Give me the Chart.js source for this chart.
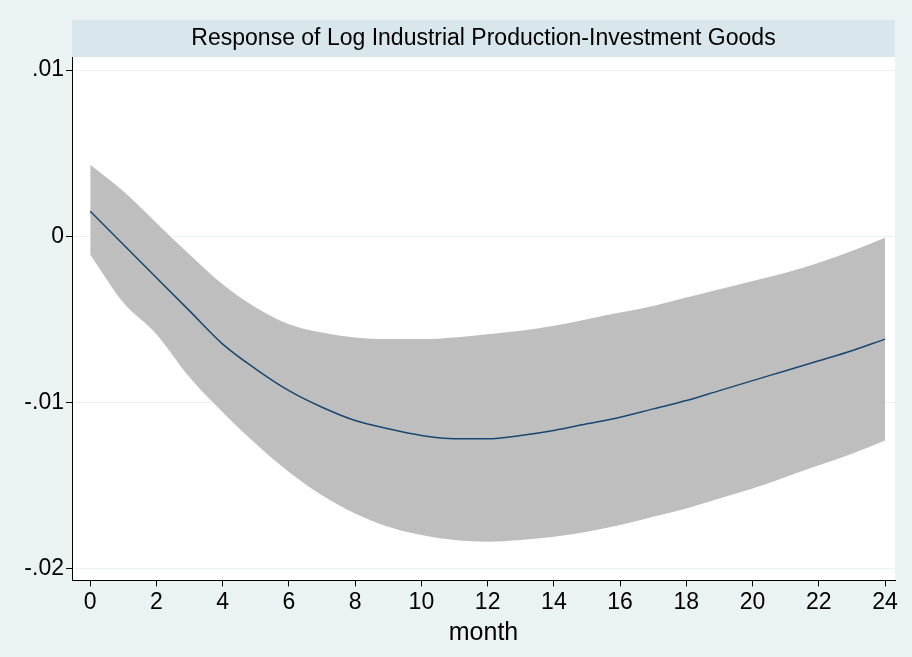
<!DOCTYPE html>
<html><head><script src="https://cdn.jsdelivr.net/npm/chart.js@4"></script>
<style>html,body{margin:0;padding:0;background:#eaf2f3}#c{display:block}</style></head>
<body><div style="width:912px;height:657px"><canvas id="c"></canvas></div>
<script>
const months=[0,1,2,3,4,5,6,7,8,9,10,11,12,13,14,15,16,17,18,19,20,21,22,23,24];
const irf=[0.0015,-0.0005,-0.0025,-0.0045,-0.0065,-0.0080,-0.0093,-0.0103,-0.0111,-0.0116,-0.0120,-0.0122,-0.0122,-0.0120,-0.0117,-0.0113,-0.0109,-0.0104,-0.0099,-0.0093,-0.0087,-0.0081,-0.0075,-0.0069,-0.0062];
const upper=[0.0043,0.0027,0.0008,-0.0011,-0.0029,-0.0043,-0.0053,-0.0058,-0.0061,-0.0062,-0.0062,-0.0061,-0.0059,-0.0057,-0.0054,-0.0050,-0.0046,-0.0042,-0.0037,-0.0032,-0.0027,-0.0022,-0.0016,-0.0009,-0.0001];
const lower=[-0.0011,-0.0040,-0.0059,-0.0085,-0.0106,-0.0125,-0.0142,-0.0156,-0.0167,-0.0175,-0.0180,-0.0183,-0.0184,-0.0183,-0.0181,-0.0178,-0.0174,-0.0169,-0.0164,-0.0158,-0.0152,-0.0145,-0.0138,-0.0131,-0.0123];
const xTicks=[0,2,4,6,8,10,12,14,16,18,20,22,24];
const yTicks=[0.01,0,-0.01,-0.02];
const yLabels=['.01','0','-.01','-.02'];
const titleText='Response of Log Industrial Production-Investment Goods';
const pts=a=>months.map((m,i)=>({x:m,y:a[i]}));
const F='"Liberation Sans", Arial';
const bg={id:'bg',beforeDraw(c){const g=c.ctx,a=c.chartArea;g.save();g.fillStyle='#eaf2f3';g.fillRect(0,0,c.width,c.height);g.fillStyle='#ffffff';g.fillRect(a.left,a.top,a.right-a.left,a.bottom-a.top);g.fillStyle='#d9e6eb';g.fillRect(a.left,20,a.right-a.left,a.top-20);g.fillStyle='#000';g.font='23px '+F;g.textAlign='center';g.textBaseline='middle';g.fillText(titleText,(a.left+a.right)/2,39);g.restore();}};
new Chart(document.getElementById('c'),{type:'line',
data:{datasets:[
{data:pts(upper),borderWidth:0,pointRadius:0,backgroundColor:'#bebebe',fill:1,cubicInterpolationMode:'monotone',order:2},
{data:pts(lower),borderWidth:0,pointRadius:0,fill:false,cubicInterpolationMode:'monotone',order:3},
{data:pts(irf),borderColor:'#1a476f',borderWidth:1.5,pointRadius:0,fill:false,cubicInterpolationMode:'monotone',order:1}]},
options:{animation:false,responsive:true,maintainAspectRatio:false,
layout:{padding:{top:57,right:17,bottom:5,left:0}},
plugins:{legend:{display:false},tooltip:{enabled:false}},
scales:{
x:{type:'linear',min:-0.55,max:24.3,afterBuildTicks:s=>{s.ticks=xTicks.map(v=>({value:v}));},
ticks:{color:'#000',font:{size:23,family:F},padding:2,maxRotation:0,callback:v=>String(v)},
grid:{display:true,drawOnChartArea:false,tickLength:6,color:'#000'},border:{color:'#000'},
title:{display:true,text:'month',color:'#000',font:{size:25,family:F},padding:{top:0}}},
y:{min:-0.02073,max:0.01079,afterBuildTicks:s=>{s.ticks=yTicks.map(v=>({value:v}));},afterFit:s=>{s.width=72;},
ticks:{color:'#000',font:{size:23,family:F},padding:2,callback:v=>{const i=yTicks.findIndex(t=>Math.abs(t-v)<1e-9);return i>=0?yLabels[i]:'';}},
grid:{color:'#eaf2f3',tickColor:'#000',tickLength:6},border:{color:'#000'}}}},
plugins:[bg]});
</script></body></html>
